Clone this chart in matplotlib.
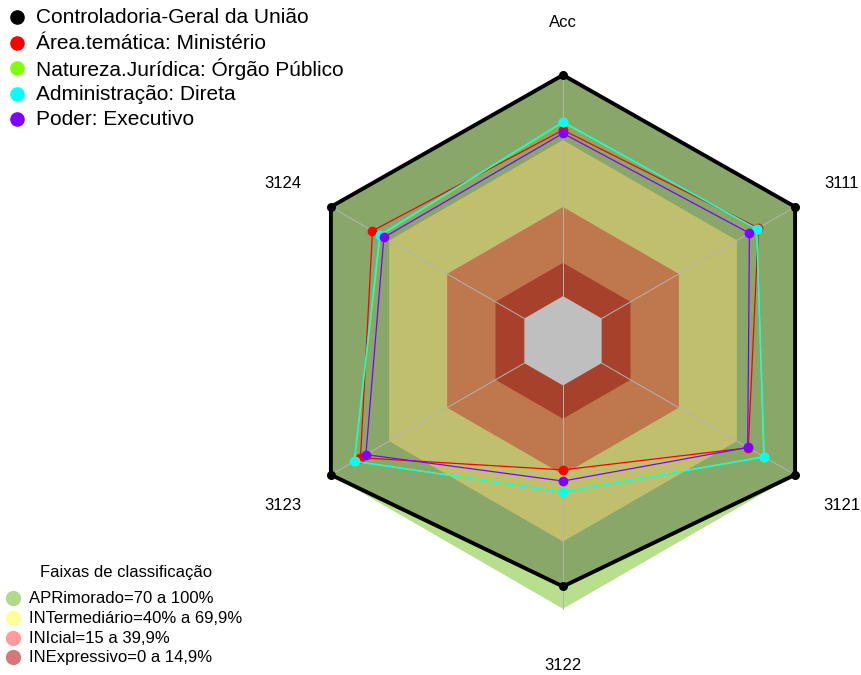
import numpy as np
import matplotlib
matplotlib.use('Agg')
import matplotlib.pyplot as plt
from matplotlib.patches import Polygon

plt.rcParams['font.family'] = ['Liberation Sans', 'DejaVu Sans']

# ---------------- data ----------------
axis_labels = ['Acc', '3111', '3121', '3122', '3123', '3124']
series_names = ['Controladoria-Geral da União', 'Área.temática: Ministério',
                'Natureza.Jurídica: Órgão Público', 'Administração: Direta',
                'Poder: Executivo']
cgu = [99.0, 100.0, 100.0, 90.0, 100.0, 100.0]
area_tematica = [74.4, 81.0, 75.8, 37.8, 84.7, 78.5]
natureza = [77.8, 80.2, 83.8, 47.6, 87.8, 74.5]
administracao = [78.1, 80.1, 84.1, 47.8, 88.0, 74.8]
poder = [72.9, 76.4, 75.5, 42.8, 81.9, 72.6]
series_values = [cgu, area_tematica, natureza, administracao, poder]
series_colors = ['#000000', '#FF0000', '#80FF00', '#00FFFF', '#8000FF']

band_title = 'Faixas de classificação'
band_labels = ['APRimorado=70 a 100%', 'INTermediário=40% a 69,9%',
               'INIcial=15 a 39,9%', 'INExpressivo=0 a 14,9%']
band_upper = [100.0, 69.9, 39.9, 14.9]
band_fill = ['#B8E08C', '#FFFF94', '#FFA067', '#E0573A']
band_legend_colors = ['#AEDB8A', '#FFFF99', '#FF9C9C', '#D77878']
vmax = 100.0

# ---------------- geometry helpers ----------------
W, H = 862, 675
CGAP, SEG = 1.0, 5.0
n = len(axis_labels)
theta = np.deg2rad(90 - 360.0 / n * np.arange(n))  # clockwise from top


def radius(v):
    return CGAP / (SEG + CGAP) + np.asarray(v, dtype=float) / vmax * SEG / (SEG + CGAP)


def xy(values):
    r = radius(values)
    return np.cos(theta) * r, np.sin(theta) * r


fig = plt.figure(figsize=(W / 100, H / 100), dpi=100)
ax = fig.add_axes([0, 0, 1, 1])
R = 268.0
cx, cy = 563.0, 340.8
ax.set_xlim(-cx / R, (W - cx) / R)
ax.set_ylim(-(H - cy) / R, cy / R)
ax.axis('off')

# bands
for up, col in zip(band_upper, band_fill):
    x, y = xy([up] * n)
    ax.add_patch(Polygon(np.column_stack([x, y]), closed=True, facecolor=col,
                         edgecolor='none', zorder=1))
x, y = xy([0] * n)
ax.add_patch(Polygon(np.column_stack([x, y]), closed=True, facecolor='white',
                     edgecolor='none', zorder=1.5))

# darkening fill of first series
x, y = xy(cgu)
ax.add_patch(Polygon(np.column_stack([x, y]), closed=True, facecolor=(0, 0, 0, 0.25),
                     edgecolor='none', zorder=2))

# spokes
r0 = CGAP / (SEG + CGAP)
for t in theta:
    ax.plot([r0 * np.cos(t), np.cos(t)], [r0 * np.sin(t), np.sin(t)],
            color='#B4B4B4', lw=0.7, zorder=2.5)

# series
for k, (vals, col) in enumerate(zip(series_values, series_colors)):
    x, y = xy(vals)
    xc = np.append(x, x[0])
    yc = np.append(y, y[0])
    lw = 2.8 if k == 0 else 0.9
    ms = 6.5 if k == 0 else 7
    ax.plot(xc, yc, color=col, lw=lw, zorder=3 + k, solid_joinstyle='miter')
    ax.plot(x, y, 'o', color=col, ms=ms, mec='none', zorder=3 + k)

# axis labels
dy_lab = -3.5 / R
for t, lab in zip(theta, axis_labels):
    ax.text(1.2 * np.cos(t) - (1.5 / R if np.cos(t) < -0.1 else 0),
            1.2 * np.sin(t) + dy_lab, lab, ha='center', va='center',
            fontsize=12, color='black', zorder=10)


# legends (figure pixel coordinates)
def fp(px, py):
    return px / W, 1 - py / H


leg_y0, leg_dy = 17.0, 25.6
for i, (name, col) in enumerate(zip(series_names, series_colors)):
    yy = leg_y0 + i * leg_dy
    fig.lines.append(plt.Line2D([fp(17, yy)[0]], [fp(17, yy)[1]], marker='o',
                                color=col, ms=10.5, mec='none',
                                transform=fig.transFigure))
    fig.text(*fp(36.5, yy + 0.5), name, ha='left', va='center', fontsize=15)

fig.text(*fp(126.5, 572), band_title, ha='center', va='center', fontsize=12)
b_y0, b_dy = 598.0, 19.8
for i, (lab, col) in enumerate(zip(band_labels, band_legend_colors)):
    yy = b_y0 + i * b_dy
    fig.lines.append(plt.Line2D([fp(13.5, yy)[0]], [fp(13.5, yy)[1]], marker='o',
                                color=col, ms=11, mec='none',
                                transform=fig.transFigure))
    fig.text(*fp(29, yy + 0.5), lab, ha='left', va='center', fontsize=12)

fig.savefig('out.png', dpi=100)
